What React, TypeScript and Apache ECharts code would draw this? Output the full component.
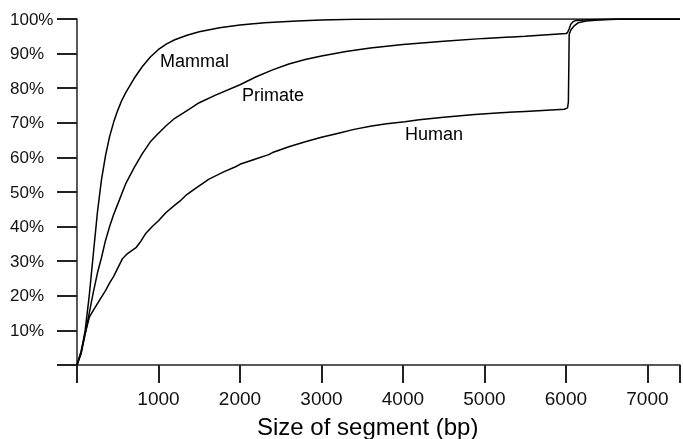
import React, { useEffect, useRef } from "react";
import * as echarts from "echarts";

const xTickValues = [1000, 2000, 3000, 4000, 5000, 6000, 7000];
const yTickValues = [10, 20, 30, 40, 50, 60, 70, 80, 90, 100];

const mammal: [number, number][] = [
  [0, 0], [50, 3.5], [100, 10], [150, 20], [200, 32], [250, 44], [300, 53.5], [350, 60.5],
  [400, 66], [450, 70.2], [500, 73.6], [550, 76.5], [600, 78.8], [700, 82.8], [800, 86.2],
  [900, 89], [1000, 91.2], [1100, 92.8], [1200, 94], [1350, 95.3], [1500, 96.3],
  [1750, 97.5], [2000, 98.3], [2300, 98.9], [2700, 99.4], [3000, 99.7], [3400, 99.9], [4000, 100], [7400, 100],
];

const primate: [number, number][] = [
  [0, 0], [50, 4], [100, 9], [150, 15], [200, 21], [250, 26.5], [300, 31], [350, 36],
  [400, 40], [450, 43.5], [500, 46.5], [600, 52.5], [700, 57], [800, 61], [900, 64.5],
  [1000, 67], [1100, 69.3], [1200, 71.3], [1350, 73.5], [1500, 75.8], [1700, 78],
  [2000, 81], [2200, 83.3], [2400, 85.3], [2600, 87], [2800, 88.3], [3000, 89.3],
  [3300, 90.6], [3600, 91.6], [4000, 92.6], [4500, 93.6], [5000, 94.4], [5500, 95],
  [6000, 95.8], [6020, 96.1], [6040, 97.2], [6060, 98.5], [6090, 99.3], [6130, 99.6],
  [6300, 99.8], [6600, 100], [7400, 100],
];

const human: [number, number][] = [
  [0, 0], [51, 3.3], [100, 9], [153, 13.9], [200, 15.8], [275, 18.7], [350, 21.5],
  [397, 23.6], [450, 25.6], [500, 28], [560, 30.8], [620, 32.2], [724, 33.9], [790, 36],
  [846, 38.1], [927, 40.1], [1000, 41.7], [1090, 44], [1200, 46.2], [1274, 47.6],
  [1335, 49], [1450, 51], [1620, 53.7], [1800, 55.8], [1946, 57.3], [2000, 58],
  [2200, 59.6], [2353, 60.8], [2400, 61.4], [2600, 63.1], [2802, 64.5], [3000, 65.8],
  [3209, 67], [3400, 68.1], [3616, 69.1], [3800, 69.7], [4024, 70.3], [4200, 70.9],
  [4500, 71.6], [4880, 72.4], [5200, 72.9], [5500, 73.3], [5980, 73.9], [6020, 74.3],
  [6030, 76], [6035, 85], [6040, 95.5], [6060, 96.8], [6100, 98], [6150, 98.9],
  [6250, 99.4], [6400, 99.7], [6700, 100], [7400, 100],
];

const seriesNames = ["Mammal", "Primate", "Human"];
const seriesData = [mammal, primate, human];

const FONT = "'Liberation Sans', Arial, Helvetica, sans-serif";
const AXIS_COLOR = "#222222";

export default function App() {
  const ref = useRef<HTMLDivElement>(null);
  useEffect(() => {
    if (!ref.current) return;
    const chart = echarts.init(ref.current, undefined, { renderer: "svg" });
    chart.setOption({
      animation: false,
      grid: { left: 77, right: 1, top: 19, bottom: 74 },
      xAxis: {
        type: "value",
        min: 0,
        max: 7400,
        interval: 1000,
        splitLine: { show: false },
        axisLine: { show: true, lineStyle: { color: AXIS_COLOR, width: 1.5 } },
        axisTick: { show: true, length: 18, lineStyle: { color: AXIS_COLOR, width: 2 } },
        axisLabel: {
          margin: 24,
          color: "#111",
          fontSize: 19,
          fontFamily: FONT,
          formatter: (v: number) => (xTickValues.indexOf(v) >= 0 ? String(v) : ""),
        },
      },
      yAxis: {
        type: "value",
        min: 0,
        max: 100,
        interval: 10,
        splitLine: { show: false },
        axisLine: { show: true, lineStyle: { color: AXIS_COLOR, width: 1.5 } },
        axisTick: { show: true, length: 20, lineStyle: { color: AXIS_COLOR, width: 2 } },
        axisLabel: {
          align: "left",
          margin: 67,
          color: "#111",
          fontSize: 17,
          fontFamily: FONT,
          formatter: (v: number) => (yTickValues.indexOf(v) >= 0 ? v + "%" : ""),
        },
      },
      series: seriesNames.map((name, i) => ({
        name,
        type: "line",
        data: seriesData[i],
        showSymbol: false,
        symbol: "none",
        smooth: false,
        lineStyle: { color: "#000", width: 1.5 },
      })),
      graphic: [
        { type: "text", x: 160, y: 61, style: { text: "Mammal", font: `18px ${FONT}`, fill: "#000", textAlign: "left", textVerticalAlign: "middle" } },
        { type: "text", x: 242, y: 95, style: { text: "Primate", font: `18px ${FONT}`, fill: "#000", textAlign: "left", textVerticalAlign: "middle" } },
        { type: "text", x: 405, y: 134, style: { text: "Human", font: `18px ${FONT}`, fill: "#000", textAlign: "left", textVerticalAlign: "middle" } },
        { type: "text", x: 257, y: 426, style: { text: "Size of segment (bp)", font: `24px ${FONT}`, fill: "#000", textAlign: "left", textVerticalAlign: "middle" } },
      ],
    });
    return () => chart.dispose();
  }, []);
  return <div ref={ref} style={{ position: "fixed", left: 0, top: 0, width: 683, height: 439 }} />;
}
